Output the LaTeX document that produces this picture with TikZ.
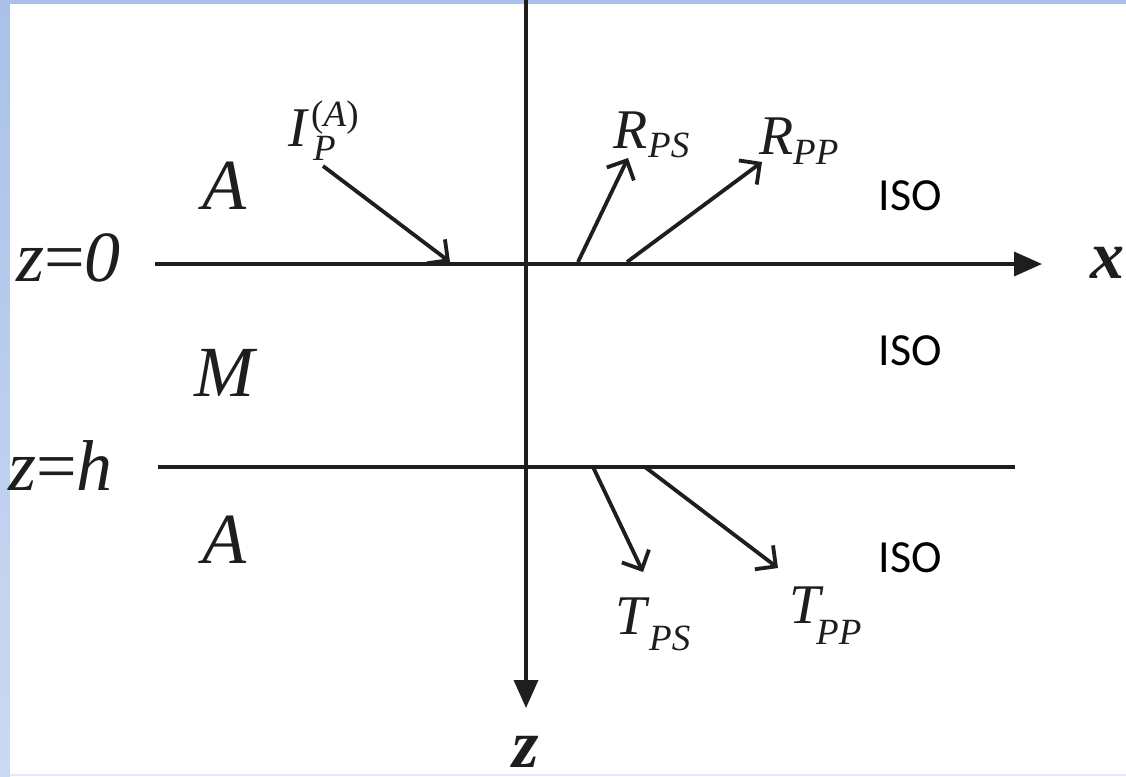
\documentclass[tikz,border=0pt]{standalone}
\usepackage{fontspec}
\setmainfont{Liberation Serif}
\newfontfamily\isofont{Carlito}
\usetikzlibrary{arrows.meta}
\definecolor{frameblue}{HTML}{A9C1E8}
\definecolor{framelight}{HTML}{CBDAF2}
\definecolor{inkblack}{HTML}{1E1E1E}
\tikzset{
  axisline/.style={line width=3.4pt, draw=inkblack, -{Triangle[length=28pt,width=24pt]}},
  plainline/.style={line width=3.4pt, draw=inkblack},
  ray/.style={line width=3.8pt, draw=inkblack, -{Straight Barb[length=15pt,width=30pt]}},
  biglbl/.style={font=\fontsize{72}{72}\selectfont\itshape, inner sep=0pt, anchor=base west, text=inkblack},
  axlbl/.style={font=\fontsize{68}{68}\selectfont\bfseries\itshape, inner sep=0pt, anchor=base west, text=inkblack},
  wavelbl/.style={font=\fontsize{56}{56}\selectfont\itshape, inner sep=0pt, anchor=base west, text=inkblack},
  sublbl/.style={font=\fontsize{37}{37}\selectfont\itshape, inner sep=0pt, anchor=base west, text=inkblack},
  isolbl/.style={font=\isofont\fontsize{46}{46}\selectfont, inner sep=0pt, anchor=base, text=black},
}
\begin{document}
\begin{tikzpicture}[x=1pt,y=-1pt]
\useasboundingbox (0,0) rectangle (1126,776);
\clip (0,0) rectangle (1126,776);
% frame
\fill[frameblue] (0,0) rectangle (1126,776);
\shade[top color=frameblue, bottom color=framelight] (0,0) rectangle (10,776);
\fill[white] (10,4) rectangle (1126,774);
\fill[framelight!60!white] (10,774) rectangle (1126,776);

% axes and interfaces
\coordinate (zTop) at (526,0);
\coordinate (zEnd) at (526,708);
\coordinate (xStart) at (155,264);
\coordinate (xEnd) at (1042,264);
\coordinate (hStart) at (158,467);
\coordinate (hEnd) at (1015,467);
\draw[axisline] (zTop) -- (zEnd);
\draw[axisline] (xStart) -- (xEnd);
\draw[plainline] (hStart) -- (hEnd);

% rays
\coordinate (iTail) at (323,166);
\coordinate (iHead) at (450,262);
\coordinate (rpsTail) at (578,262);
\coordinate (rpsHead) at (628,158);
\coordinate (rppTail) at (627,262);
\coordinate (rppHead) at (762,162);
\coordinate (tpsTail) at (593,467);
\coordinate (tpsHead) at (643,572);
\coordinate (tppTail) at (645,467);
\coordinate (tppHead) at (778,568);
\draw[ray] (iTail) -- (iHead);
\draw[ray] (rpsTail) -- (rpsHead);
\draw[ray] (rppTail) -- (rppHead);
\draw[ray] (tpsTail) -- (tpsHead);
\draw[ray] (tppTail) -- (tppHead);

% boundary labels
\node[biglbl] (z0) at (16,281) {z\textup{=}0};
\node[biglbl] (zh) at (8,490) {z\textup{=}h};
\node[biglbl] (layA1) at (202,209) {A};
\node[biglbl] (layM) at (194,396) {M};
\node[biglbl] (layA2) at (202,563) {A};

% axis labels
\node[axlbl] (xlbl) at (1090,278) {x};
\node[axlbl] (zlbl) at (512,767) {z};

% wave labels
\node[wavelbl] (lblI) at (288,146) {I};
\node[sublbl] (lblIsub) at (313,160) {P};
\node[sublbl] (lblIsup) at (311,126) {\textup{(}A\textup{)}};
\node[wavelbl] (lblRps) at (613,148) {R};
\node[sublbl] (lblRpsSub) at (648,157) {PS};
\node[wavelbl] (lblRpp) at (759,154) {R};
\node[sublbl] (lblRppSub) at (793,164) {PP};
\node[wavelbl] (lblTps) at (615,634) {T};
\node[sublbl] (lblTpsSub) at (649,650) {PS};
\node[wavelbl] (lblTpp) at (789,623) {T};
\node[sublbl] (lblTppSub) at (816,644) {PP};

% ISO labels
\node[isolbl] (iso1) at (910,210) {ISO};
\node[isolbl] (iso2) at (910,365) {ISO};
\node[isolbl] (iso3) at (910,572) {ISO};
\end{tikzpicture}
\end{document}
